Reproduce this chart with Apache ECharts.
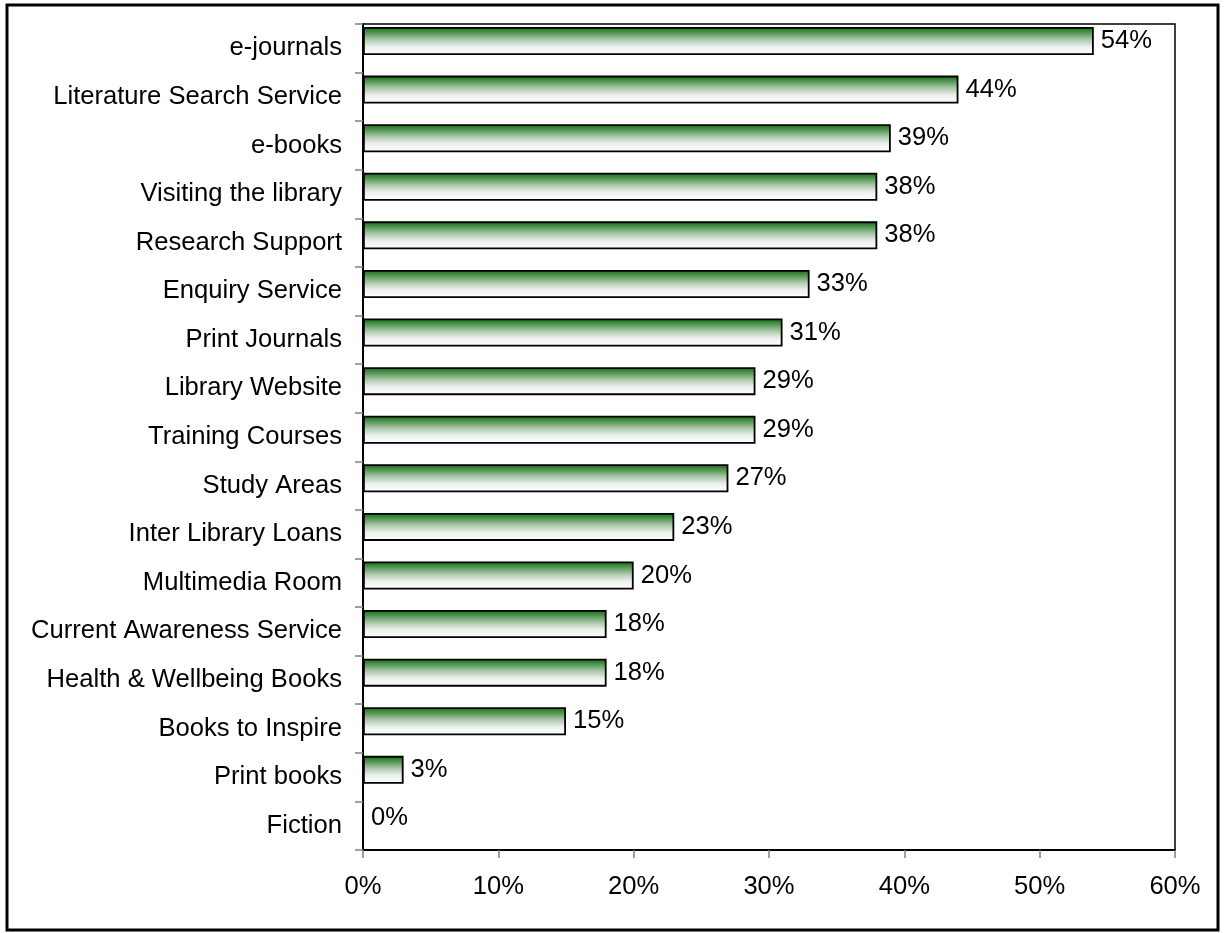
<!DOCTYPE html>
<html>
<head>
<meta charset="utf-8">
<title>Library services</title>
<script src="https://cdn.jsdelivr.net/npm/echarts@6/dist/echarts.min.js"></script>
<style>
  html, body { margin: 0; padding: 0; background: #ffffff; }
  #chart { width: 1224px; height: 933px; }
</style>
</head>
<body>
<div id="chart"></div>
<script>
// Services, listed top to bottom
const categories = [
  'e-journals', 'Literature Search Service', 'e-books', 'Visiting the library',
  'Research Support', 'Enquiry Service', 'Print Journals', 'Library Website',
  'Training Courses', 'Study Areas', 'Inter Library Loans', 'Multimedia Room',
  'Current Awareness Service', 'Health & Wellbeing Books', 'Books to Inspire',
  'Print books', 'Fiction'
];
// Share of respondents (%)
const percentages = [54, 44, 39, 38, 38, 33, 31, 29, 29, 27, 23, 20, 18, 18, 15, 3, 0];
// Percentage axis range and step
const axisMin = 0;
const axisMax = 60;
const axisStep = 10;

const FONT = "'Liberation Sans', Arial, sans-serif";
const FONT_SIZE = 25.6;

const chart = echarts.init(document.getElementById('chart'), null, { renderer: 'canvas' });

chart.setOption({
  backgroundColor: '#ffffff',
  animation: false,
  textStyle: { fontFamily: FONT },
  graphic: [{
    type: 'rect',
    shape: { x: 7, y: 5, width: 1211, height: 925 },
    style: { fill: 'none', stroke: '#000000', lineWidth: 3 },
    silent: true,
    z: 0
  }],
  grid: {
    left: 363, right: 49, top: 24, bottom: 83,
    show: true,
    borderColor: '#000000',
    borderWidth: 1.5,
    backgroundColor: 'transparent'
  },
  xAxis: {
    type: 'value',
    min: axisMin, max: axisMax, interval: axisStep,
    axisLine: { show: true, lineStyle: { color: '#000000', width: 2 } },
    axisTick: { show: true, length: 8, lineStyle: { color: '#808080', width: 1.5 } },
    splitLine: { show: false },
    axisLabel: {
      formatter: '{value}%',
      color: '#000000', fontSize: FONT_SIZE, fontFamily: FONT, margin: 24
    }
  },
  yAxis: {
    type: 'category',
    data: categories,
    inverse: true,
    axisLine: { show: true, lineStyle: { color: '#000000', width: 2 } },
    axisTick: { show: true, length: 8, lineStyle: { color: '#808080', width: 1.5 } },
    axisLabel: { color: '#000000', fontSize: FONT_SIZE, fontFamily: FONT, margin: 21 }
  },
  series: [{
    type: 'bar',
    data: percentages,
    barWidth: 28,
    barGap: '-48%',
    itemStyle: {
      borderColor: '#000000',
      borderWidth: 1.8,
      color: {
        type: 'linear', x: 0, y: 0, x2: 0, y2: 1,
        colorStops: [
          { offset: 0, color: '#1a6a1a' },
          { offset: 0.12, color: '#358535' },
          { offset: 0.45, color: '#adc8ad' },
          { offset: 0.7, color: '#ecf1ec' },
          { offset: 1, color: '#ffffff' }
        ]
      }
    },
    label: {
      show: true,
      position: 'right',
      distance: 7,
      formatter: '{c}%',
      color: '#000000',
      fontSize: FONT_SIZE,
      fontFamily: FONT
    }
  }, {
    // empty companion series: keeps the visible bars in the upper part of each row
    type: 'bar',
    data: percentages.map(() => null),
    barWidth: 28,
    silent: true,
    itemStyle: { color: 'transparent' }
  }]
});
</script>
</body>
</html>
